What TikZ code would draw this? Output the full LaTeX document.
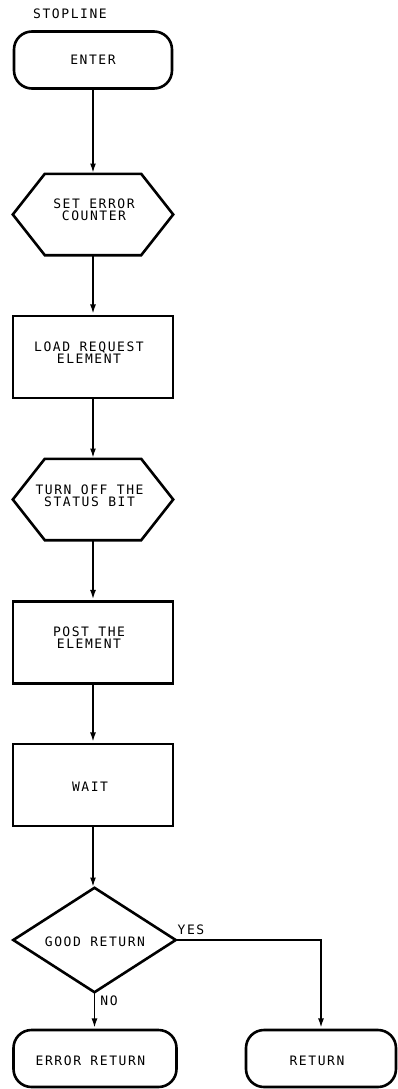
\documentclass[tikz,border=0pt]{standalone}
\usepackage{fontspec}
\newfontfamily\plotfont[LetterSpace=12]{DejaVu Sans Mono}
\usetikzlibrary{arrows.meta}
\begin{document}
\begin{tikzpicture}[x=1pt,y=-1pt,
  shp/.style={draw, line width=2.6pt, inner sep=0pt, line join=miter},
  term/.style={shp, rounded corners=18pt, minimum height=57pt},
  boxn/.style={shp, minimum width=160pt, minimum height=82pt},
  anch/.style={inner sep=0pt, minimum width=160pt, minimum height=81pt},
  shline/.style={line width=2.6pt, line join=miter},
  txt/.style={font=\fontsize{13}{12}\plotfont, align=center, inner sep=0pt},
  conn/.style={line width=1.3pt, -{Latex[length=9pt,width=6pt]}, shorten >=1.3pt}
]
\useasboundingbox (0,0) rectangle (398,1089);

\node[txt] (title) at (70,14) {STOPLINE};

% ENTER
\node[term, minimum width=158pt] (enter) at (93,60) {};
\node[txt] (entert) at (93,60) {ENTER};

% hex 1
\node[anch] (hexa) at (93,214.5) {};
\draw[shline] (hexa.west) -- ([xshift=32pt]hexa.north west) -- ([xshift=-32pt]hexa.north east)
  -- (hexa.east) -- ([xshift=-32pt]hexa.south east) -- ([xshift=32pt]hexa.south west) -- cycle;
\node[txt] (hexat) at (94,209.5) {SET ERROR\\COUNTER};

% load
\node[boxn] (load) at (93,357) {};
\node[txt] (loadt) at (89,352.5) {LOAD REQUEST\\ELEMENT};

% hex 2
\node[anch] (hexb) at (93,499.5) {};
\draw[shline] (hexb.west) -- ([xshift=32pt]hexb.north west) -- ([xshift=-32pt]hexb.north east)
  -- (hexb.east) -- ([xshift=-32pt]hexb.south east) -- ([xshift=32pt]hexb.south west) -- cycle;
\node[txt] (hexbt) at (89.5,496) {TURN OFF THE\\STATUS BIT};

% post
\node[boxn] (post) at (93,642.5) {};
\node[txt] (postt) at (89,638) {POST THE\\ELEMENT};

% wait
\node[boxn] (wait) at (93,785) {};
\node[txt] (waitt) at (90,786.5) {WAIT};

% decision
\node[inner sep=0pt, minimum width=162pt, minimum height=104pt] (dec) at (94.5,940) {};
\draw[shline] (dec.north) -- (dec.east) -- (dec.south) -- (dec.west) -- cycle;
\node[txt] (dect) at (95,942) {GOOD RETURN};

% returns
\node[term, minimum width=163pt] (err) at (95,1058.5) {};
\node[txt] (errt) at (90.5,1060.5) {ERROR RETURN};
\node[term, minimum width=150pt] (ret) at (321,1058.5) {};
\node[txt] (rett) at (317,1060.5) {RETURN};

% connectors
\draw[conn] (enter.south) -- (enter.south |- hexa.north);
\draw[conn] (hexa.south) -- (load.north);
\draw[conn] (load.south) -- (hexb.north);
\draw[conn] (hexb.south) -- (post.north);
\draw[conn] (post.south) -- (wait.north);
\draw[conn] (wait.south) -- (wait.south |- dec.north);
\draw[conn] (dec.south) -- (dec.south |- err.north);
\draw[conn] (dec.east) -| (ret.north);

\node[txt] (yes) at (191,930) {YES};
\node[txt] (no) at (109,1001) {NO};
\end{tikzpicture}
\end{document}
